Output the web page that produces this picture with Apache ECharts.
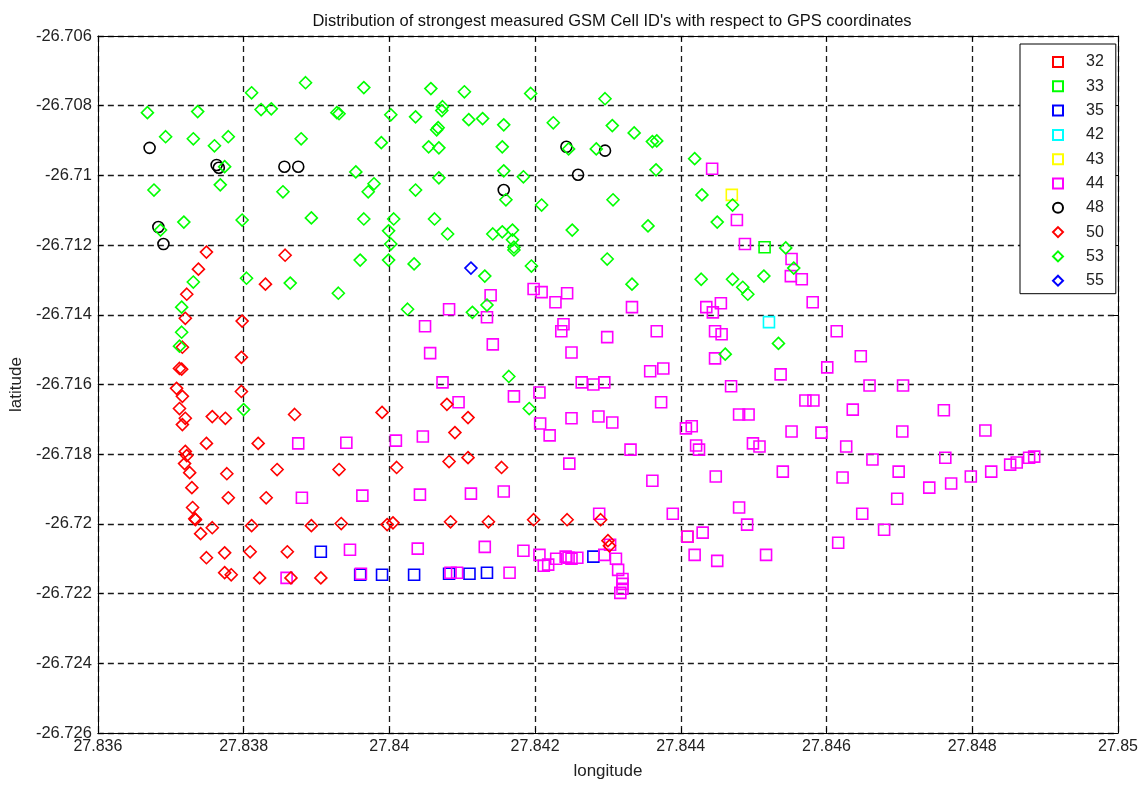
<!DOCTYPE html>
<html>
<head>
<meta charset="utf-8">
<script src="https://cdn.jsdelivr.net/npm/echarts@6/dist/echarts.min.js"></script>
<style>
  html, body { margin: 0; padding: 0; background: #fff; }
  #chart { width: 1147px; height: 785px; }
</style>
</head>
<body>
<div id="chart"></div>
<script>
// Strongest measured GSM cell per GPS fix: [longitude, latitude]
const cellIds = ['32', '33', '35', '42', '43', '44', '48', '50', '53', '55'];

const cell32 = [[27.84409, -26.72037]];
const cell33 = [[27.84515, -26.71206]];
const cell35 = [
  [27.83906, -26.7208], [27.8396, -26.72146], [27.8399, -26.72146], [27.84034, -26.72146],
  [27.84082, -26.72143], [27.8411, -26.72143], [27.84134, -26.7214], [27.8428, -26.72094]
];
const cell42 = [[27.84521, -26.71421]];
const cell43 = [[27.8447, -26.71056]];
const cell44 = [
  [27.84443, -26.70981], [27.84477, -26.71128], [27.84488, -26.71197], [27.84552, -26.7124],
  [27.84551, -26.71289], [27.84566, -26.71298], [27.84581, -26.71364], [27.84435, -26.71378],
  [27.84455, -26.71367], [27.84444, -26.71393], [27.84614, -26.71447], [27.84447, -26.71447],
  [27.84456, -26.71456], [27.84647, -26.71519], [27.84447, -26.71525], [27.84601, -26.71551],
  [27.84537, -26.71571], [27.84469, -26.71605], [27.84659, -26.71603], [27.84705, -26.71603],
  [27.84571, -26.71646], [27.84582, -26.71646], [27.8448, -26.71686], [27.84493, -26.71686],
  [27.84636, -26.71672], [27.84761, -26.71674], [27.84407, -26.71726], [27.84415, -26.7172],
  [27.84552, -26.71735], [27.84593, -26.71738], [27.84704, -26.71735], [27.84818, -26.71732],
  [27.84421, -26.71775], [27.84425, -26.71787], [27.84499, -26.71769], [27.84508, -26.71778],
  [27.84627, -26.71778], [27.84663, -26.71815], [27.84763, -26.7181], [27.84448, -26.71864],
  [27.8454, -26.7185], [27.84622, -26.71867], [27.84699, -26.7185], [27.84741, -26.71896],
  [27.84697, -26.71928], [27.8448, -26.71953], [27.84389, -26.71971], [27.84649, -26.71971],
  [27.84491, -26.72002], [27.84679, -26.72017], [27.8443, -26.72025], [27.84409, -26.72037],
  [27.84616, -26.72054], [27.84419, -26.72089], [27.8445, -26.72106], [27.84517, -26.72089],
  [27.84771, -26.71884], [27.84798, -26.71864], [27.84826, -26.7185], [27.84852, -26.7183],
  [27.84861, -26.71824], [27.84878, -26.7181], [27.84885, -26.71807],
  [27.84139, -26.71344], [27.84198, -26.71326], [27.84209, -26.71335], [27.84228, -26.71364],
  [27.84244, -26.71338], [27.84333, -26.71378], [27.84082, -26.71384], [27.84134, -26.71407],
  [27.84049, -26.71433], [27.84239, -26.71427], [27.84236, -26.71447], [27.84299, -26.71464],
  [27.84367, -26.71447], [27.84142, -26.71485], [27.84056, -26.7151], [27.8425, -26.71508],
  [27.84358, -26.71562], [27.84376, -26.71554], [27.84073, -26.71594], [27.84264, -26.71594],
  [27.8428, -26.716], [27.84295, -26.71594], [27.84206, -26.71623], [27.84171, -26.71634],
  [27.84095, -26.71651], [27.84373, -26.71651], [27.8425, -26.71697], [27.84287, -26.71692],
  [27.84306, -26.71709], [27.84207, -26.71712],
  [27.84009, -26.71761], [27.84046, -26.71749], [27.8422, -26.71746], [27.84331, -26.71787],
  [27.84247, -26.71827], [27.84361, -26.71876], [27.84042, -26.71916], [27.84112, -26.71913],
  [27.84157, -26.71907], [27.84288, -26.71971], [27.84039, -26.72071], [27.84131, -26.72066],
  [27.84184, -26.72077], [27.84206, -26.72089], [27.84212, -26.7212], [27.84218, -26.72117],
  [27.84229, -26.721], [27.84242, -26.72094], [27.84246, -26.72097], [27.8425, -26.721],
  [27.84258, -26.72097], [27.84295, -26.72089], [27.84303, -26.7206], [27.84311, -26.721],
  [27.84314, -26.72132], [27.8432, -26.72158], [27.8432, -26.72172], [27.8432, -26.72186],
  [27.84317, -26.72198], [27.84093, -26.7214], [27.84084, -26.7214], [27.84165, -26.7214],
  [27.83875, -26.71769], [27.83941, -26.71767], [27.8388, -26.71925], [27.83963, -26.71919],
  [27.83946, -26.72074], [27.83859, -26.72155], [27.83961, -26.72143]
];
const cell48 = [
  [27.83671, -26.70921], [27.83763, -26.7097], [27.83766, -26.70978], [27.83856, -26.70975],
  [27.83875, -26.70975], [27.83683, -26.71148], [27.8369, -26.71197], [27.84243, -26.70918],
  [27.84296, -26.70929], [27.84259, -26.70998], [27.84157, -26.71042]
];
const cell50 = [
  [27.83749, -26.7122], [27.83857, -26.71229], [27.83738, -26.71269], [27.8383, -26.71312],
  [27.83722, -26.71341], [27.8372, -26.7141], [27.83798, -26.71418], [27.83716, -26.71493],
  [27.83797, -26.71522], [27.83712, -26.71554], [27.83715, -26.71556], [27.83708, -26.71611],
  [27.83797, -26.7162], [27.83716, -26.71634], [27.83712, -26.71669], [27.8372, -26.71697],
  [27.83757, -26.71692], [27.83775, -26.71697], [27.8387, -26.71686], [27.8399, -26.7168],
  [27.83716, -26.71715], [27.83749, -26.71769], [27.8382, -26.71769], [27.8372, -26.71792],
  [27.83722, -26.71804], [27.83719, -26.71827], [27.83726, -26.71853], [27.83777, -26.71856],
  [27.83846, -26.71844], [27.83931, -26.71844], [27.83729, -26.71896], [27.83779, -26.71925],
  [27.83831, -26.71925], [27.8373, -26.71953], [27.83733, -26.71985], [27.83734, -26.71988],
  [27.83757, -26.72011], [27.83741, -26.72028], [27.83811, -26.72005], [27.83893, -26.72005],
  [27.83934, -26.71999], [27.83997, -26.72002], [27.83749, -26.72097], [27.83774, -26.72083],
  [27.83809, -26.7208], [27.8386, -26.7208], [27.83774, -26.7214], [27.83783, -26.72146],
  [27.83822, -26.72155], [27.83865, -26.72155], [27.83906, -26.72155],
  [27.8409, -26.71738], [27.8401, -26.71838], [27.84082, -26.71821], [27.84108, -26.7181],
  [27.84154, -26.71838], [27.84005, -26.71997], [27.84084, -26.71994], [27.84136, -26.71994],
  [27.84198, -26.71988], [27.84244, -26.71988], [27.8429, -26.71988], [27.843, -26.72048],
  [27.84302, -26.72063], [27.84079, -26.71657], [27.84108, -26.71695]
];
const cell53 = [
  [27.83811, -26.70763], [27.83885, -26.70734], [27.83965, -26.70748], [27.83668, -26.7082],
  [27.83737, -26.70817], [27.83824, -26.70811], [27.83838, -26.70809], [27.83928, -26.7082],
  [27.83931, -26.70823], [27.83693, -26.70889], [27.83731, -26.70895], [27.83779, -26.70889],
  [27.8376, -26.70915], [27.83879, -26.70895], [27.83989, -26.70906], [27.83774, -26.70975],
  [27.83954, -26.7099], [27.83677, -26.71042], [27.83768, -26.71027], [27.83854, -26.71047],
  [27.83979, -26.71024], [27.83971, -26.71047], [27.83718, -26.71134], [27.83686, -26.71157],
  [27.83798, -26.71128], [27.83893, -26.71122], [27.83965, -26.71125], [27.83999, -26.71159],
  [27.84002, -26.70826], [27.84057, -26.70751], [27.84103, -26.7076], [27.84194, -26.70765],
  [27.84296, -26.7078], [27.84036, -26.70832], [27.84073, -26.70803], [27.84072, -26.70814],
  [27.84109, -26.7084], [27.84128, -26.70837], [27.84157, -26.70855], [27.84225, -26.70849],
  [27.84306, -26.70857], [27.84336, -26.70878], [27.84361, -26.70903], [27.84367, -26.70901],
  [27.84067, -26.70863], [27.84065, -26.70869], [27.84054, -26.70918], [27.84068, -26.70921],
  [27.84155, -26.70918], [27.84246, -26.70924], [27.84284, -26.70924], [27.84157, -26.70987],
  [27.84184, -26.71004], [27.84366, -26.70984], [27.84068, -26.71007], [27.84036, -26.71042],
  [27.8416, -26.7107], [27.84209, -26.71085], [27.84307, -26.7107], [27.84006, -26.71125],
  [27.84062, -26.71125], [27.84251, -26.71157], [27.84355, -26.71145], [27.8408, -26.71168],
  [27.84142, -26.71168], [27.84155, -26.71162], [27.84169, -26.71157], [27.84169, -26.71185],
  [27.84002, -26.71197], [27.84171, -26.71206], [27.84419, -26.70952], [27.84429, -26.71056],
  [27.84471, -26.71085], [27.8445, -26.71134], [27.84544, -26.71208], [27.8396, -26.71243],
  [27.83999, -26.71243], [27.83804, -26.71295], [27.83864, -26.71309], [27.83731, -26.71306],
  [27.8393, -26.71338], [27.83715, -26.71378], [27.83715, -26.7145], [27.83712, -26.7149],
  [27.838, -26.71672], [27.84171, -26.71214], [27.84034, -26.71254], [27.84195, -26.7126],
  [27.84299, -26.7124], [27.84131, -26.71289], [27.84333, -26.71312], [27.84134, -26.71372],
  [27.84025, -26.71384], [27.84114, -26.71393], [27.84164, -26.71577], [27.84192, -26.71669],
  [27.84428, -26.71298], [27.84471, -26.71298], [27.84485, -26.71321], [27.84492, -26.71341],
  [27.84514, -26.71289], [27.84555, -26.71266], [27.84534, -26.71482], [27.84461, -26.71513]
];
const cell55 = [[27.84112, -26.71266]];

const cellData = [cell32, cell33, cell35, cell42, cell43, cell44, cell48, cell50, cell53, cell55];
const cellColors = ['#ff0000', '#00ff00', '#0000ff', '#00ffff', '#ffff00', '#ff00ff', '#000000', '#ff0000', '#00ff00', '#0000ff'];
const cellSymbols = ['rect', 'rect', 'rect', 'rect', 'rect', 'rect', 'circle', 'diamond', 'diamond', 'diamond'];
const cellSymbolSizes = [11, 11, 11, 11, 11, 11, 11, 12, 12, 12];

// Axis ranges and tick spacing
const lonMin = 27.836, lonMax = 27.85, lonStep = 0.002;
const latMin = -26.726, latMax = -26.706, latStep = 0.002;

const FONT = '"Liberation Sans", Arial, sans-serif';
const tickFmt = v => String(Number(v.toFixed(3)));

const gridLine = { show: true, lineStyle: { color: '#1a1a1a', width: 1.3, type: [6, 4] } };
const boxLine = { show: true, onZero: false, lineStyle: { color: '#000', width: 1 } };
const tickIn = { show: true, inside: true, length: 5, lineStyle: { color: '#000' } };

const chart = echarts.init(document.getElementById('chart'), null, { renderer: 'canvas' });

chart.setOption({
  animation: false,
  backgroundColor: '#fff',
  title: {
    text: "Distribution of strongest measured GSM Cell ID's with respect to GPS coordinates",
    left: 607, top: 8, textAlign: 'center',
    textStyle: { fontFamily: FONT, fontSize: 16.5, fontWeight: 'normal', color: '#111' }
  },
  grid: { left: 96, right: 29, top: 36, bottom: 52, containLabel: false },
  legend: {
    orient: 'vertical', left: 1020, top: 44,
    padding: [10, 12, 5, 32],
    itemWidth: 10, itemHeight: 10, itemGap: 8.3,
    backgroundColor: '#fff', borderColor: '#000', borderWidth: 1,
    textStyle: { fontFamily: FONT, fontSize: 16, color: '#222', lineHeight: 16, padding: [0, 0, 0, 18] },
    data: cellIds.map((id, i) => ({ name: id, icon: cellSymbols[i] }))
  },
  xAxis: [{
    type: 'value', min: lonMin, max: lonMax, interval: lonStep,
    name: 'longitude', nameLocation: 'middle', nameGap: 30,
    nameTextStyle: { fontFamily: FONT, fontSize: 17, color: '#222' },
    axisLine: boxLine, axisTick: tickIn, splitLine: gridLine,
    axisLabel: { fontFamily: FONT, fontSize: 16, color: '#222', margin: 6, formatter: tickFmt }
  }, {
    type: 'value', position: 'top', min: lonMin, max: lonMax, interval: lonStep,
    axisLine: boxLine, axisTick: tickIn, splitLine: { show: false }, axisLabel: { show: false }
  }],
  yAxis: [{
    type: 'value', min: latMin, max: latMax, interval: latStep,
    name: 'latitude', nameLocation: 'middle', nameGap: 68, nameRotate: 90,
    nameTextStyle: { fontFamily: FONT, fontSize: 17, color: '#222' },
    axisLine: boxLine, axisTick: tickIn, splitLine: gridLine,
    axisLabel: { fontFamily: FONT, fontSize: 16.5, color: '#222', margin: 6, formatter: tickFmt }
  }, {
    type: 'value', position: 'right', min: latMin, max: latMax, interval: latStep,
    axisLine: boxLine, axisTick: tickIn, splitLine: { show: false }, axisLabel: { show: false }
  }],
  series: cellIds.map((id, i) => ({
    name: id,
    type: 'scatter',
    xAxisIndex: 0, yAxisIndex: 0,
    data: cellData[i],
    symbol: cellSymbols[i],
    symbolSize: cellSymbolSizes[i],
    color: cellColors[i],
    itemStyle: { color: 'transparent', borderColor: cellColors[i], borderWidth: 1.6, opacity: 1 },
    emphasis: { disabled: true }
  }))
});
</script>
</body>
</html>
